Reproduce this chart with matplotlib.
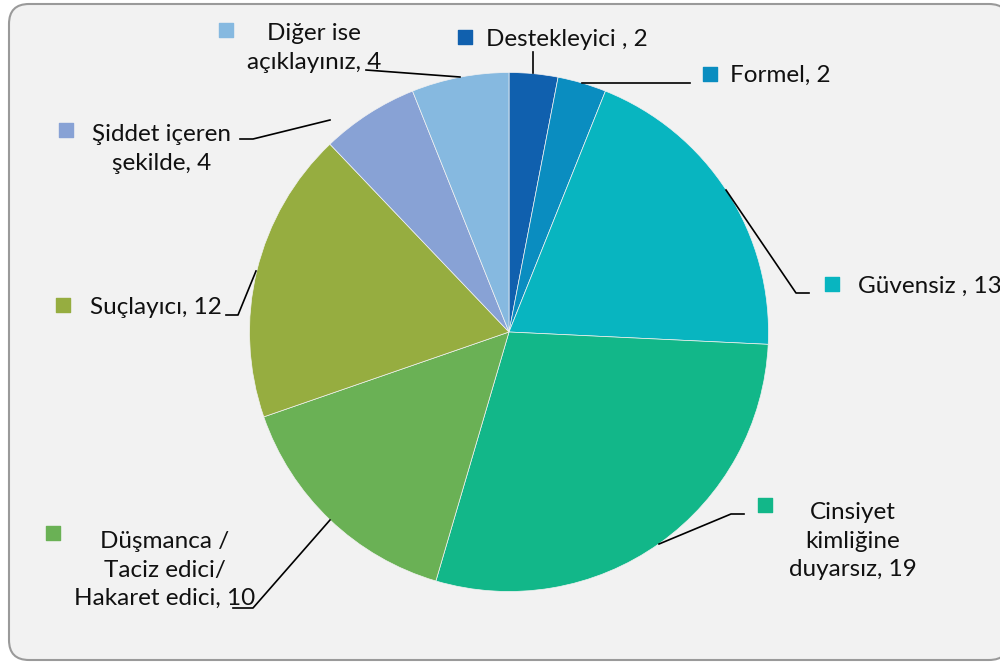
import matplotlib
matplotlib.use("Agg")
import matplotlib.pyplot as plt
from matplotlib.patches import FancyBboxPatch

categories = ["Destekleyici , 2", "Formel, 2", "Güvensiz , 13",
              "Cinsiyet\nkimliğine\nduyarsız, 19",
              "Düşmanca /\nTaciz edici/\nHakaret edici, 10",
              "Suçlayıcı, 12", "Şiddet içeren\nşekilde, 4",
              "Diğer ise\naçıklayınız, 4"]
values = [2, 2, 13, 19, 10, 12, 4, 4]
colors = ["#1060ae", "#0a8dc0", "#08b5c0", "#12b789",
          "#6ab155", "#96ad40", "#88a2d5", "#86b9e0"]

W, H = 1000, 663
fig = plt.figure(figsize=(10, 6.63), dpi=100)
fig.patch.set_facecolor("white")
ax = fig.add_axes([0, 0, 1, 1])
ax.add_patch(FancyBboxPatch((9, 3), 1000, 656,
                            boxstyle="round,pad=0,rounding_size=20",
                            facecolor="#f2f2f2", edgecolor="#9a9a9a",
                            linewidth=1.5, zorder=0))

cx, cy, r = 509, H - 332, 259.5
ax.pie(values, colors=colors, startangle=90, counterclock=False,
       center=(cx, cy), radius=r, frame=True,
       wedgeprops=dict(edgecolor="#f2f2f2", linewidth=0.5, zorder=2))
ax.set_xlim(0, W)
ax.set_ylim(0, H)
ax.set_aspect("equal")
ax.axis("off")

font = dict(family="Lato", fontsize=17.5, color="#111111")

# label layout: (text x, text y (top-origin), ha, marker x, marker y, leader points)
layout = [
    (486, 39, "left", 465, 37, [(533, 73), (533, 52)]),
    (730, 75, "left", 710, 74, [(582, 83), (690, 83)]),
    (858, 286, "left", 832, 284, [(726, 190), (796, 293), (809, 293)]),
    (853, 541, "center", 765, 505, [(659, 544), (731, 514), (744, 514)]),
    (165, 570, "center", 53, 533, [(330, 520), (253, 608), (233, 608)]),
    (90, 308, "left", 63, 305, [(256, 271), (238, 315), (226, 315)]),
    (162, 149, "center", 66, 130, [(330, 120), (253, 139), (240, 139)]),
    (314, 48, "center", 226, 30, [(460, 77), (366, 70)]),
]

for lab, col, (tx, ty, ha, mx, my, pts) in zip(categories, colors, layout):
    ax.text(tx, H - ty, lab, ha=ha, va="center", linespacing=1.42,
            multialignment="center", zorder=6, **font)
    ax.scatter([mx], [H - my], marker="s", s=110, color=col, zorder=5)
    xs = [p[0] for p in pts]
    ys = [H - p[1] for p in pts]
    ax.plot(xs, ys, color="black", linewidth=1.2, zorder=4)

fig.savefig("out.png", dpi=100)
